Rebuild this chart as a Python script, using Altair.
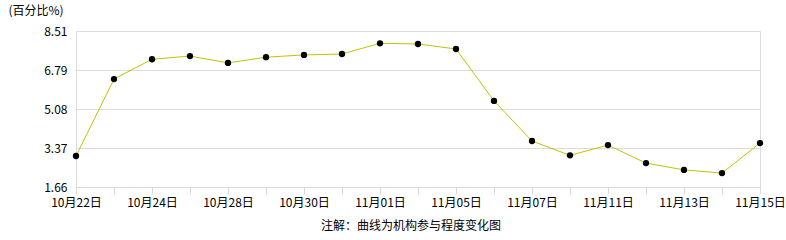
import altair as alt
import pandas as pd

dates = ["10月22日", "10月23日", "10月24日", "10月25日", "10月28日", "10月29日",
         "10月30日", "10月31日", "11月01日", "11月04日", "11月05日", "11月06日",
         "11月07日", "11月08日", "11月11日", "11月12日", "11月13日", "11月14日",
         "11月15日"]
values = [3.02, 6.40, 7.27, 7.41, 7.11, 7.36, 7.46, 7.50, 7.97, 7.94, 7.72,
          5.44, 3.68, 3.05, 3.50, 2.71, 2.41, 2.27, 3.59]
shown_labels = ["10月22日", "10月24日", "10月28日", "10月30日", "11月01日",
                "11月05日", "11月07日", "11月11日", "11月13日", "11月15日"]
y_ticks = [1.66, 3.37, 5.08, 6.79, 8.51]

df = pd.DataFrame({"date": dates, "value": values})

FONT = "Noto Sans CJK SC"
arr = "[" + ",".join("'%s'" % s for s in shown_labels) + "]"

x = alt.X("date:O", sort=dates,
          scale=alt.Scale(type="point", padding=0),
          axis=alt.Axis(title=None, labelAngle=0, labelOverlap=False,
                        labelExpr="indexof(%s, datum.value) >= 0 ? datum.value : ''" % arr,
                        tickSize=7, tickColor="#d9d9d9", domain=False,
                        labelPadding=3, labelFontSize=12, labelColor="#000000",
                        labelFont=FONT, grid=False))
y = alt.Y("value:Q",
          scale=alt.Scale(domain=[1.66, 8.51], nice=False, zero=False),
          axis=alt.Axis(values=y_ticks, format=".2f", ticks=False, domain=False,
                        gridColor="#dcdcdc", labelPadding=9, labelFontSize=12,
                        labelColor="#000000", labelFont=FONT,
                        title="(百分比%)", titleAngle=0, titleX=-68, titleY=-21,
                        titleAlign="left", titleBaseline="middle",
                        titleFontSize=12, titleFontWeight="normal",
                        titleFont=FONT, titleColor="#000000"))

base = alt.Chart(df).encode(x=x, y=y)
line = base.mark_line(color="#C4C400", strokeWidth=1)
pts = base.mark_circle(color="#000000", size=40, opacity=1)

chart = (line + pts).properties(
    width=684, height=156,
    autosize=alt.AutoSizeParams(type="none"),
    padding={"left": 76, "top": 31, "right": 26, "bottom": 53},
    title=alt.TitleParams("注解：曲线为机构参与程度变化图", orient="bottom",
                          anchor="middle", offset=13, dx=-7, fontSize=12,
                          fontWeight="normal", font=FONT, color="#000000"),
).configure_view(stroke="#dcdcdc").configure(background="#ffffff")

chart.save("out.html", embed_options={"renderer": "svg", "actions": False})
